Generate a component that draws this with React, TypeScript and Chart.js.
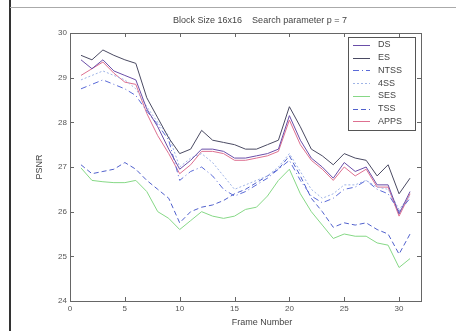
import React, { useEffect, useRef } from "react";
import { Chart, registerables } from "chart.js";
Chart.register(...registerables);

const frames = [1,2,3,4,5,6,7,8,9,10,11,12,13,14,15,16,17,18,19,20,21,22,23,24,25,26,27,28,29,30,31];
const DS = [29.4,29.2,29.4,29.15,29.05,28.95,28.3,27.9,27.4,26.95,27.15,27.4,27.4,27.35,27.2,27.2,27.25,27.3,27.4,28.15,27.6,27.2,27.0,26.75,27.1,26.9,27.0,26.6,26.6,25.95,26.45];
const ES = [29.5,29.4,29.62,29.5,29.4,29.32,28.55,28.1,27.65,27.3,27.4,27.82,27.6,27.55,27.5,27.4,27.4,27.5,27.6,28.35,27.9,27.4,27.25,27.05,27.3,27.2,27.15,26.8,27.05,26.4,26.75];
const NTSS = [28.75,28.85,28.95,28.85,28.75,28.6,28.25,27.95,27.6,26.7,26.9,27.0,26.8,26.5,26.35,26.45,26.6,26.75,26.95,27.15,26.7,26.35,26.2,26.3,26.5,26.55,26.7,26.5,26.4,26.0,26.3];
const FSS = [28.95,29.05,29.15,29.05,28.95,28.75,28.35,28.0,27.7,27.0,27.2,27.3,27.1,26.8,26.5,26.6,26.7,26.8,27.0,27.3,26.9,26.5,26.3,26.4,26.6,26.6,26.7,26.55,26.5,26.05,26.35];
const SES = [26.98,26.7,26.67,26.65,26.65,26.7,26.45,26.0,25.85,25.6,25.8,26.0,25.9,25.85,25.9,26.05,26.1,26.35,26.7,26.95,26.4,26.0,25.7,25.4,25.5,25.45,25.45,25.3,25.25,24.75,24.95];
const TSS = [27.05,26.85,26.9,26.95,27.1,26.95,26.7,26.5,26.3,25.75,26.0,26.1,26.15,26.25,26.4,26.5,26.65,26.8,26.95,27.25,26.8,26.3,26.0,25.65,25.75,25.7,25.75,25.6,25.5,25.05,25.5];
const APPS = [29.05,29.2,29.35,29.1,28.9,28.85,28.2,27.7,27.3,26.85,27.05,27.35,27.35,27.3,27.15,27.15,27.2,27.25,27.35,28.05,27.5,27.15,26.95,26.7,27.0,26.8,26.95,26.55,26.55,25.9,26.4];

const seriesNames = ["DS", "ES", "NTSS", "4SS", "SES", "TSS", "APPS"];
const seriesValues = [DS, ES, NTSS, FSS, SES, TSS, APPS];
const xTicks = [0, 5, 10, 15, 20, 25, 30];
const yTicks = [24, 25, 26, 27, 28, 29, 30];
const titleText = "Block Size 16x16    Search parameter p = 7";
const xTitle = "Frame Number";
const yTitle = "PSNR";

const FONT = "'Liberation Sans', Arial, sans-serif";

export default function App() {
  const ref = useRef<HTMLCanvasElement>(null);
  useEffect(() => {
    document.body.style.margin = "0";
    const styles = [
      { color: "#6a4ea8", dash: [] as number[] },
      { color: "#4a4a62", dash: [] as number[] },
      { color: "#5a6ad8", dash: [6, 3, 1, 3] },
      { color: "#9fb4e6", dash: [2, 2] },
      { color: "#86d886", dash: [] as number[] },
      { color: "#5060cc", dash: [5, 3] },
      { color: "#de7090", dash: [] as number[] },
    ];
    const datasets = seriesNames.map((name, i) => ({
      label: name,
      data: frames.map((f, j) => ({ x: f, y: seriesValues[i][j] })),
      borderColor: styles[i].color,
      borderDash: styles[i].dash,
      borderWidth: 1,
      pointRadius: 0,
      fill: false,
      tension: 0,
    }));
    const deco = {
      id: "deco",
      afterDraw(chart: any) {
        const ctx = chart.ctx;
        const a = chart.chartArea;
        const xs = chart.scales.x;
        const ys = chart.scales.y;
        ctx.save();
        ctx.strokeStyle = "#666";
        ctx.lineWidth = 1;
        ctx.strokeRect(Math.round(a.left) + 0.5, Math.round(a.top) + 0.5, Math.round(a.right - a.left), Math.round(a.bottom - a.top));
        ctx.beginPath();
        xTicks.forEach((v) => {
          const px = Math.round(xs.getPixelForValue(v)) + 0.5;
          ctx.moveTo(px, a.bottom); ctx.lineTo(px, a.bottom - 4);
          ctx.moveTo(px, a.top); ctx.lineTo(px, a.top + 4);
        });
        yTicks.forEach((v) => {
          const py = Math.round(ys.getPixelForValue(v)) + 0.5;
          ctx.moveTo(a.left, py); ctx.lineTo(a.left + 4, py);
          ctx.moveTo(a.right, py); ctx.lineTo(a.right - 4, py);
        });
        ctx.stroke();
        ctx.fillStyle = "#444";
        ctx.font = `9px ${FONT}`;
        ctx.textAlign = "center";
        ctx.textBaseline = "middle";
        ctx.fillText(titleText, 260, 21);
        ctx.fillText(xTitle, 262, 323);
        ctx.save();
        ctx.translate(40, 167);
        ctx.rotate(-Math.PI / 2);
        ctx.fillText(yTitle, 0, 0);
        ctx.restore();
        const lx = 348, ly = 37, lw = 67, lh = 93;
        ctx.fillStyle = "#fff";
        ctx.fillRect(lx, ly, lw, lh);
        ctx.strokeStyle = "#555";
        ctx.strokeRect(lx + 0.5, ly + 0.5, lw, lh);
        ctx.textAlign = "left";
        seriesNames.forEach((name, i) => {
          const y = 45 + i * 12.7;
          ctx.strokeStyle = styles[i].color;
          ctx.setLineDash(styles[i].dash);
          ctx.beginPath();
          ctx.moveTo(353, Math.round(y) + 0.5);
          ctx.lineTo(370, Math.round(y) + 0.5);
          ctx.stroke();
          ctx.setLineDash([]);
          ctx.fillStyle = "#444";
          ctx.fillText(name, 378, y);
        });
        ctx.restore();
      },
    };
    const chart = new Chart(ref.current as HTMLCanvasElement, {
      type: "line",
      data: { datasets: datasets as any },
      options: {
        animation: false,
        responsive: false,
        maintainAspectRatio: false,
        layout: { padding: { top: 33, right: 35, left: 0, bottom: 0 } },
        plugins: { legend: { display: false }, title: { display: false }, tooltip: { enabled: false } },
        scales: {
          x: {
            type: "linear",
            min: 0,
            max: 32,
            afterBuildTicks: (s: any) => { s.ticks = xTicks.map((v) => ({ value: v })); },
            afterFit: (s: any) => { s.height = 30; },
            grid: { display: false, drawTicks: false, tickLength: 0 },
            border: { display: false },
            ticks: { font: { family: FONT, size: 8 }, color: "#555", padding: 3, maxRotation: 0, autoSkip: false },
          },
          y: {
            type: "linear",
            min: 24,
            max: 30,
            afterBuildTicks: (s: any) => { s.ticks = yTicks.map((v) => ({ value: v })); },
            afterFit: (s: any) => { s.width = 70; },
            grid: { display: false, drawTicks: false, tickLength: 0 },
            border: { display: false },
            ticks: { font: { family: FONT, size: 8 }, color: "#555", padding: 3, autoSkip: false },
          },
        },
      },
      plugins: [deco],
    });
    return () => chart.destroy();
  }, []);
  return (
    <div style={{ position: "absolute", left: 0, top: 0, width: 456, height: 331, background: "#fff" }}>
      <canvas ref={ref} width={456} height={331} style={{ display: "block", width: 456, height: 331 }} />
      <div style={{ position: "absolute", left: 9, top: 0, width: 2, height: 331, background: "#333" }} />
      <div style={{ position: "absolute", left: 10, top: 7, width: 446, height: 1, background: "#aaa" }} />
    </div>
  );
}
